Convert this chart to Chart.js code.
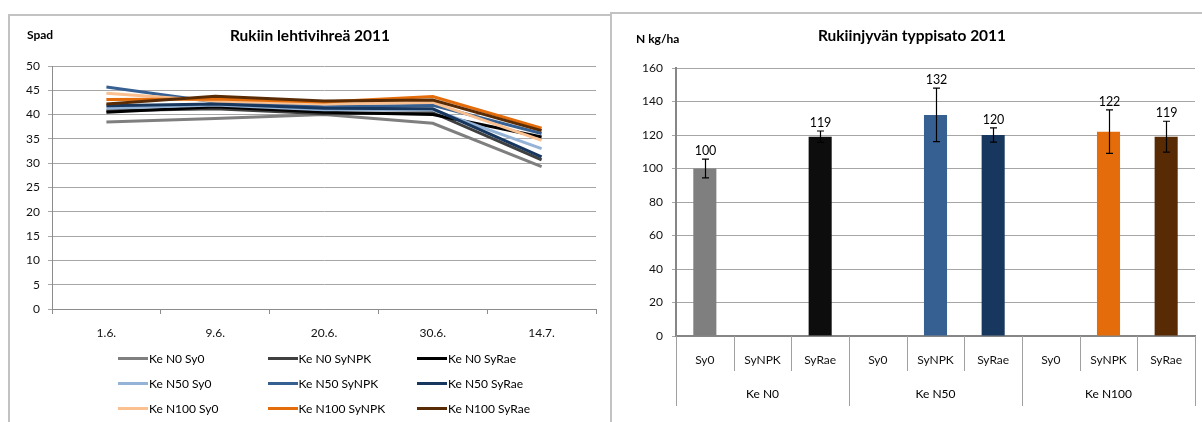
<!DOCTYPE html>
<html><head><meta charset="utf-8">
<script src="https://cdn.jsdelivr.net/npm/chart.js@4.4.1/dist/chart.umd.min.js"></script>
<style>
body{margin:0;background:#fff;width:1202px;height:422px;overflow:hidden;position:relative;font-family:Lato,'Open Sans',sans-serif;}
canvas{position:absolute;top:0;}
#c1{left:0;}
#c2{left:612px;}
.fr{position:absolute;background:#c2c2c2;}
.lg{position:absolute;font-size:12px;color:#000;line-height:14px;white-space:nowrap;}
.lg i{display:inline-block;width:30px;height:3px;vertical-align:middle;margin-right:1px;position:relative;top:-1px;}
</style></head><body>
<div class="fr" style="left:9px;top:14px;width:602px;height:2px"></div>
<div class="fr" style="left:8px;top:14px;width:2px;height:408px"></div>
<div class="fr" style="left:611px;top:12px;width:591px;height:2px"></div>
<div class="fr" style="left:610px;top:12px;width:2px;height:410px"></div>
<canvas id="c1" width="611" height="422"></canvas>
<canvas id="c2" width="590" height="422"></canvas>
<div id="legend"></div>
<script>
// ---------- data: left chart (Spad) ----------
const dates = ['1.6.', '9.6.', '20.6.', '30.6.', '14.7.'];
const seriesNames = ['Ke N0 Sy0', 'Ke N0 SyNPK', 'Ke N0 SyRae',
                     'Ke N50 Sy0', 'Ke N50 SyNPK', 'Ke N50 SyRae',
                     'Ke N100 Sy0', 'Ke N100 SyNPK', 'Ke N100 SyRae'];
const spadN0Sy0    = [38.5, 39.2, 40.0, 38.2, 29.3];
const spadN0NPK    = [40.8, 41.2, 40.2, 40.4, 30.7];
const spadN0Rae    = [40.5, 41.6, 40.5, 40.0, 35.4];
const spadN50Sy0   = [41.3, 42.0, 41.0, 41.0, 33.0];
const spadN50NPK   = [45.7, 42.6, 41.6, 41.9, 36.1];
const spadN50Rae   = [41.8, 42.2, 41.3, 41.2, 31.3];
const spadN100Sy0  = [44.4, 42.8, 42.2, 42.5, 34.7];
const spadN100NPK  = [43.1, 43.2, 42.6, 43.7, 37.2];
const spadN100Rae  = [42.2, 43.8, 42.8, 43.0, 36.7];
const spadTicks = [0, 5, 10, 15, 20, 25, 30, 35, 40, 45, 50];

// ---------- data: right chart (N yield) ----------
const groups = ['Ke N0', 'Ke N50', 'Ke N100'];
const subs = ['Sy0', 'SyNPK', 'SyRae'];
const nYield    = [100, null, 119, null, 132, 120, null, 122, 119];
const nYieldErr = [5.6, null, 3.4, null, 16, 4.2, null, 13, 9.2];
const yieldTicks = [0, 20, 40, 60, 80, 100, 120, 140, 160];

// ---------- styles ----------
const lineColors = ['#7f7f7f', '#404040', '#000000', '#95b3d7', '#376092', '#17375e', '#fac090', '#e46c0a', '#5a2c06'];
const barColors = ['#7f7f7f', '#7f7f7f', '#0d0d0d', '#376092', '#376092', '#17375e', '#e46c0a', '#e46c0a', '#582b05'];
const spadSeries = [spadN0Sy0, spadN0NPK, spadN0Rae, spadN50Sy0, spadN50NPK, spadN50Rae, spadN100Sy0, spadN100NPK, spadN100Rae];

Chart.defaults.font.family = 'Lato';
Chart.defaults.color = '#111';

function textPlugin(items) {
  return {
    id: 'txt' + Math.random().toString(36).slice(2),
    afterDraw(chart) {
      const ctx = chart.ctx;
      ctx.save();
      items.forEach(t => {
        ctx.font = t.font;
        ctx.fillStyle = '#000';
        ctx.textAlign = t.align;
        ctx.textBaseline = 'middle';
        ctx.fillText(t.text, t.x, t.y);
      });
      ctx.restore();
    }
  };
}

// ---------- left chart ----------
new Chart(document.getElementById('c1'), {
  type: 'line',
  data: {
    labels: dates,
    datasets: spadSeries.map((d, i) => ({
      label: seriesNames[i], data: d, borderColor: lineColors[i], backgroundColor: lineColors[i],
      borderWidth: 3, pointRadius: 0, tension: 0, order: 8 - i
    }))
  },
  options: {
    responsive: false, animation: false,
    layout: { padding: { top: 66, right: 15, bottom: 83, left: 0 } },
    plugins: { legend: { display: false }, tooltip: { enabled: false } },
    scales: {
      x: {
        offset: true,
        grid: { drawOnChartArea: false, drawTicks: true, tickLength: 5, color: '#8c8c8c', offset: true },
        border: { color: '#8c8c8c' },
        ticks: { font: { size: 12 }, padding: 12, maxRotation: 0 },
        afterFit: s => { s.height = 30; }
      },
      y: {
        min: 0, max: 50,
        afterBuildTicks: s => { s.ticks = spadTicks.map(v => ({ value: v })); },
        ticks: { font: { size: 12 }, padding: 8 },
        grid: { color: '#a6a6a6', tickLength: 4 },
        border: { color: '#8c8c8c' },
        afterFit: s => { s.width = 52; }
      }
    }
  },
  plugins: [textPlugin([
    { text: 'Spad', x: 27, y: 35, font: 'bold 12px Lato', align: 'left' },
    { text: 'Rukiin lehtivihreä 2011', x: 310, y: 36, font: 'bold 15.5px Lato', align: 'center' }
  ])]
});

// legend (HTML, 3 columns)
const lg = document.getElementById('legend');
seriesNames.forEach((n, i) => {
  const d = document.createElement('div');
  d.className = 'lg';
  d.style.left = (118 + (i % 3) * 149.5) + 'px';
  d.style.top = (352 + Math.floor(i / 3) * 25) + 'px';
  d.innerHTML = '<i style="background:' + lineColors[i] + '"></i>' + n;
  lg.appendChild(d);
});

// ---------- right chart ----------
const barLabels = [];
groups.forEach(g => subs.forEach(s => barLabels.push(s)));

const errorBarPlugin = {
  id: 'errbars',
  afterDatasetsDraw(chart) {
    const ctx = chart.ctx, xs = chart.scales.x, ys = chart.scales.y;
    ctx.save();
    ctx.strokeStyle = '#000';
    ctx.lineWidth = 1.2;
    nYield.forEach((v, i) => {
      if (v == null || nYieldErr[i] == null) return;
      const x = Math.round(xs.getPixelForValue(i)) + 0.5;
      const t = ys.getPixelForValue(v + nYieldErr[i]);
      const b = ys.getPixelForValue(v - nYieldErr[i]);
      ctx.beginPath();
      ctx.moveTo(x, t); ctx.lineTo(x, b);
      ctx.moveTo(x - 3.5, t); ctx.lineTo(x + 3.5, t);
      ctx.moveTo(x - 3.5, b); ctx.lineTo(x + 3.5, b);
      ctx.stroke();
      ctx.font = '12.5px Lato';
      ctx.fillStyle = '#000';
      ctx.textAlign = 'center';
      ctx.textBaseline = 'middle';
      ctx.fillText(String(v), x, t - 8);
    });
    ctx.restore();
  }
};

const groupAxisPlugin = {
  id: 'groupaxis',
  afterDraw(chart) {
    const ctx = chart.ctx, xs = chart.scales.x, a = chart.chartArea;
    const n = barLabels.length;
    const bound = i => i === 0 ? xs.left : (i === n ? xs.right : (xs.getPixelForValue(i - 1) + xs.getPixelForValue(i)) / 2);
    ctx.save();
    ctx.strokeStyle = '#a0a0a0';
    ctx.lineWidth = 1;
    for (let i = 0; i <= n; i++) {
      const x = Math.round(bound(i)) + 0.5;
      ctx.beginPath();
      ctx.moveTo(x, a.bottom);
      ctx.lineTo(x, a.bottom + (i % subs.length === 0 ? 70 : 35));
      ctx.stroke();
    }
    ctx.font = '12px Lato';
    ctx.fillStyle = '#000';
    ctx.textAlign = 'center';
    ctx.textBaseline = 'middle';
    groups.forEach((g, gi) => {
      const x = (bound(gi * subs.length) + bound((gi + 1) * subs.length)) / 2;
      ctx.fillText(g, x, a.bottom + 58);
    });
    ctx.restore();
  }
};

new Chart(document.getElementById('c2'), {
  type: 'bar',
  data: {
    labels: barLabels,
    datasets: [{
      label: 'N kg/ha', data: nYield, backgroundColor: barColors,
      barPercentage: 0.4, categoryPercentage: 1.0
    }]
  },
  options: {
    responsive: false, animation: false,
    layout: { padding: { top: 68, right: 7, bottom: 56, left: 0 } },
    plugins: { legend: { display: false }, tooltip: { enabled: false } },
    scales: {
      x: {
        grid: { drawOnChartArea: false, drawTicks: false },
        border: { color: '#868686', width: 2 },
        ticks: { font: { size: 12 }, padding: 17, maxRotation: 0 },
        afterFit: s => { s.height = 30; }
      },
      y: {
        min: 0, max: 160,
        afterBuildTicks: s => { s.ticks = yieldTicks.map(v => ({ value: v })); },
        ticks: { font: { size: 12 }, padding: 9 },
        grid: { color: '#a6a6a6', tickLength: 4 },
        border: { color: '#868686', width: 2 },
        afterFit: s => { s.width = 64; }
      }
    }
  },
  plugins: [errorBarPlugin, groupAxisPlugin, textPlugin([
    { text: 'N kg/ha', x: 24, y: 39, font: 'bold 12px Lato', align: 'left' },
    { text: 'Rukiinjyvän typpisato 2011', x: 300, y: 36, font: 'bold 15.5px Lato', align: 'center' }
  ])]
});
</script>
</body></html>
